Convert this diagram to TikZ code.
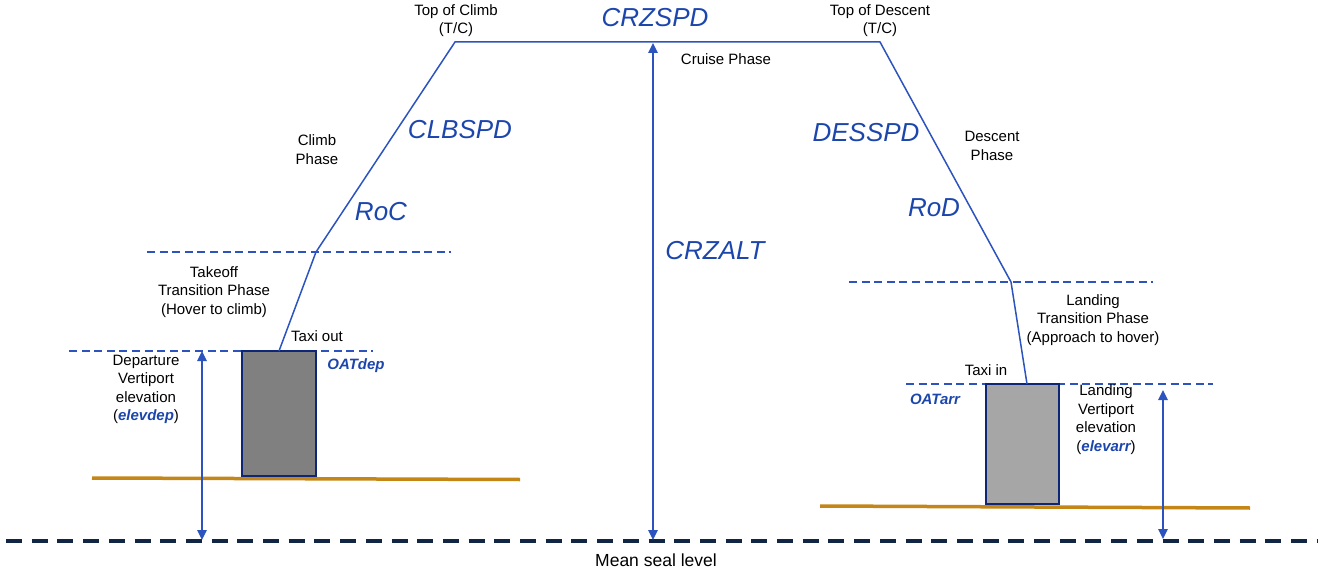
\documentclass[tikz,border=0pt]{standalone}
\usepackage{fontspec}
\setmainfont{Liberation Sans}
\usetikzlibrary{arrows.meta}
\definecolor{lineblue}{RGB}{45,84,190}
\definecolor{txtblue}{RGB}{28,70,172}
\definecolor{bldgc}{RGB}{14,38,118}
\definecolor{groundc}{RGB}{196,134,22}
\definecolor{mslc}{RGB}{16,38,68}
\definecolor{grayA}{RGB}{128,128,128}
\definecolor{grayB}{RGB}{166,166,166}
\begin{document}
\begin{tikzpicture}[x=1pt,y=-1pt,
  lbl/.style={inner sep=0pt, align=center, font=\fontsize{15}{18.5}\selectfont, text=black},
  big/.style={inner sep=0pt, font=\fontsize{26}{30}\selectfont\itshape, text=txtblue},
  oat/.style={inner sep=0pt, font=\fontsize{15}{18}\selectfont\bfseries\itshape, text=txtblue},
  flight/.style={draw=lineblue, line width=1.5pt, line join=miter},
  guide/.style={draw=lineblue, line width=1.1pt, dash pattern=on 8pt off 4.6pt},
  ground/.style={draw=groundc, line width=3.5pt},
  msl/.style={draw=mslc, line width=3.8pt, dash pattern=on 16pt off 9.7pt},
  bldg/.style={draw=bldgc, line width=2.8pt},
  dim/.style={draw=lineblue, line width=1.4pt, {Triangle[width=9.5pt,length=10pt]}-{Triangle[width=9.5pt,length=10pt]}},
  var/.style={text=txtblue, font=\bfseries\itshape}
]
\useasboundingbox (0,0) rectangle (1335,577);

% sea level
\coordinate (mslL) at (6,541);
\coordinate (mslR) at (1318,541);
\draw[msl] (mslL) -- (mslR);

% grounds
\coordinate (gdL1) at (92,478);
\coordinate (gdL2) at (520,479.5);
\coordinate (gdR1) at (820,506);
\coordinate (gdR2) at (1250,508);
\draw[ground] (gdL1) -- (gdL2);
\draw[ground] (gdR1) -- (gdR2);

% guide lines
\coordinate (g1a) at (147,252); \coordinate (g1b) at (451,252);
\coordinate (g2a) at (69,351);  \coordinate (g2b) at (373,351);
\coordinate (g3a) at (849,282); \coordinate (g3b) at (1153,282);
\coordinate (g4a) at (906,384); \coordinate (g4b) at (1213,384);
\draw[guide] (g1a) -- (g1b);
\draw[guide] (g2a) -- (g2b);
\draw[guide] (g3a) -- (g3b);
\draw[guide] (g4a) -- (g4b);

% buildings
\draw[bldg, fill=grayA] (242,351) rectangle (316,476);
\draw[bldg, fill=grayB] (986,384) rectangle (1059,504);

% flight path
\coordinate (p0) at (279,351);
\coordinate (p1) at (316,252);
\coordinate (tc) at (455,42);
\coordinate (td) at (880,42);
\coordinate (p4) at (1011,282);
\coordinate (p5) at (1027,384);
\draw[flight] (p0) -- (p1) -- (tc) -- (td) -- (p4) -- (p5);

% dimension arrows
\coordinate (a1t) at (202,351); \coordinate (a1b) at (202,540);
\coordinate (a2t) at (653,43);  \coordinate (a2b) at (653,540);
\coordinate (a3t) at (1163,390); \coordinate (a3b) at (1163,539);
\draw[dim] (a1t) -- (a1b);
\draw[dim] (a2t) -- (a2b);
\draw[dim] (a3t) -- (a3b);

% labels
\node[lbl] (toc) at (456,20.5) {Top of Climb\\(T/C)};
\node[lbl] (tod) at (880,20.5) {Top of Descent\\(T/C)};
\node[big] (crzspd) at (655,18) {CRZSPD};
\node[lbl] (cruise) at (726,59) {Cruise Phase};
\node[lbl] (climb) at (317,149.5) {Climb\\Phase};
\node[big] (clbspd) at (460,130) {CLBSPD};
\node[big] (roc) at (381,212) {RoC};
\node[big] (crzalt) at (715,251) {CRZALT};
\node[big] (desspd) at (866,133) {DESSPD};
\node[lbl] (descent) at (992,146) {Descent\\Phase};
\node[big] (rod) at (934,208) {RoD};
\node[lbl] (takeoff) at (214,292) {Takeoff\\Transition Phase\\(Hover to climb)};
\node[lbl] (taxiout) at (317,336) {Taxi out};
\node[oat] (oatdep) at (356,366) {OATdep};
\node[lbl] (depelev) at (146,389.5) {Departure\\Vertiport\\elevation\\(\textcolor{txtblue}{\bfseries\itshape elevdep})};
\node[lbl] (landtr) at (1093,320) {Landing\\Transition Phase\\(Approach to hover)};
\node[lbl] (taxiin) at (986,370) {Taxi in};
\node[oat] (oatarr) at (935,399) {OATarr};
\node[lbl] (arrelev) at (1106,419.5) {Landing\\Vertiport\\elevation\\(\textcolor{txtblue}{\bfseries\itshape elevarr})};
\node[lbl, font=\fontsize{17.5}{20}\selectfont] (msltxt) at (656,560) {Mean seal level};
\end{tikzpicture}
\end{document}
